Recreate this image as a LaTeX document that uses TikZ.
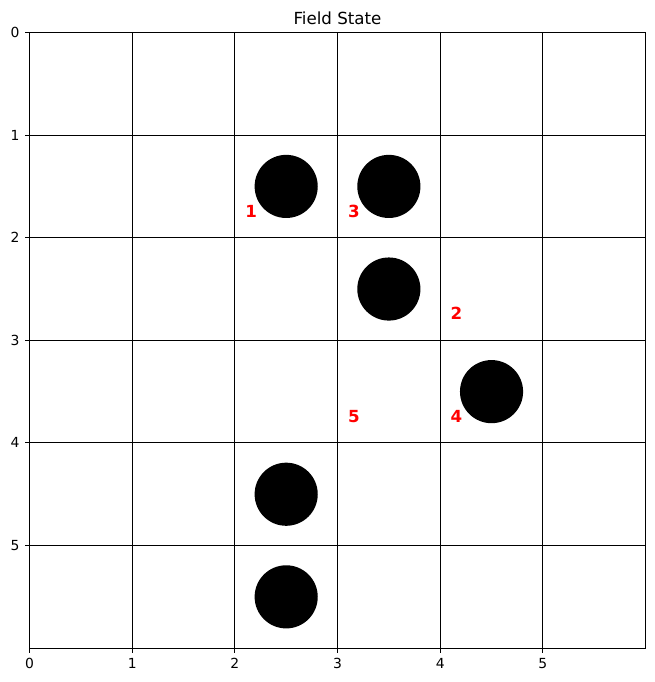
\documentclass[tikz,border=0pt]{standalone}
\usepackage{fontspec}
\setmainfont{DejaVu Sans}
\begin{document}
\begin{tikzpicture}[x=73.92pt,y=-73.87pt,
  ln/.style={line width=0.8pt,black},
  tk/.style={line width=0.8pt,black},
  ticklab/.style={font=\fontsize{10pt}{12pt}\selectfont,inner sep=0pt},
  stone/.style={circle,fill=black,draw=none,minimum size=0.615*73.9pt,inner sep=0pt},
  idx/.style={text=red,font=\fontsize{12pt}{14pt}\selectfont\bfseries,anchor=west,inner sep=0pt}]
\useasboundingbox (-0.2873,-0.3168) rectangle (6.083,6.330);
% grid lines
\foreach \i in {1,...,5} {
  \draw[ln] (\i,0) -- (\i,6);
  \draw[ln] (0,\i) -- (6,\i);
}
% stones
\node[stone] (s1) at (2.5,1.5) {};
\node[stone] (s2) at (3.5,1.5) {};
\node[stone] (s3) at (3.5,2.5) {};
\node[stone] (s4) at (4.5,3.5) {};
\node[stone] (s5) at (2.5,4.5) {};
\node[stone] (s6) at (2.5,5.5) {};
% labels
\node[idx] (l1) at (2.1,1.74) {1};
\node[idx] (l3) at (3.1,1.74) {3};
\node[idx] (l2) at (4.1,2.74) {2};
\node[idx] (l5) at (3.1,3.74) {5};
\node[idx] (l4) at (4.1,3.74) {4};
% frame
\draw[ln] (0,0) rectangle (6,6);
% ticks
\foreach \i in {0,...,5} {
  \draw[tk] (\i,6) -- ++(0,-3.5pt);
  \draw[tk] (0,\i) -- ++(-3.5pt,0);
  \node[ticklab,anchor=north] (xt\i) at ([yshift=-7pt]\i,6) {\i};
  \node[ticklab,anchor=east] (yt\i) at ([xshift=-7pt]0,\i) {\i};
}
% title
\node[anchor=base,inner sep=0pt,font=\fontsize{12pt}{14pt}\selectfont] (title) at ([yshift=6pt]3,0) {Field State};
\end{tikzpicture}
\end{document}
